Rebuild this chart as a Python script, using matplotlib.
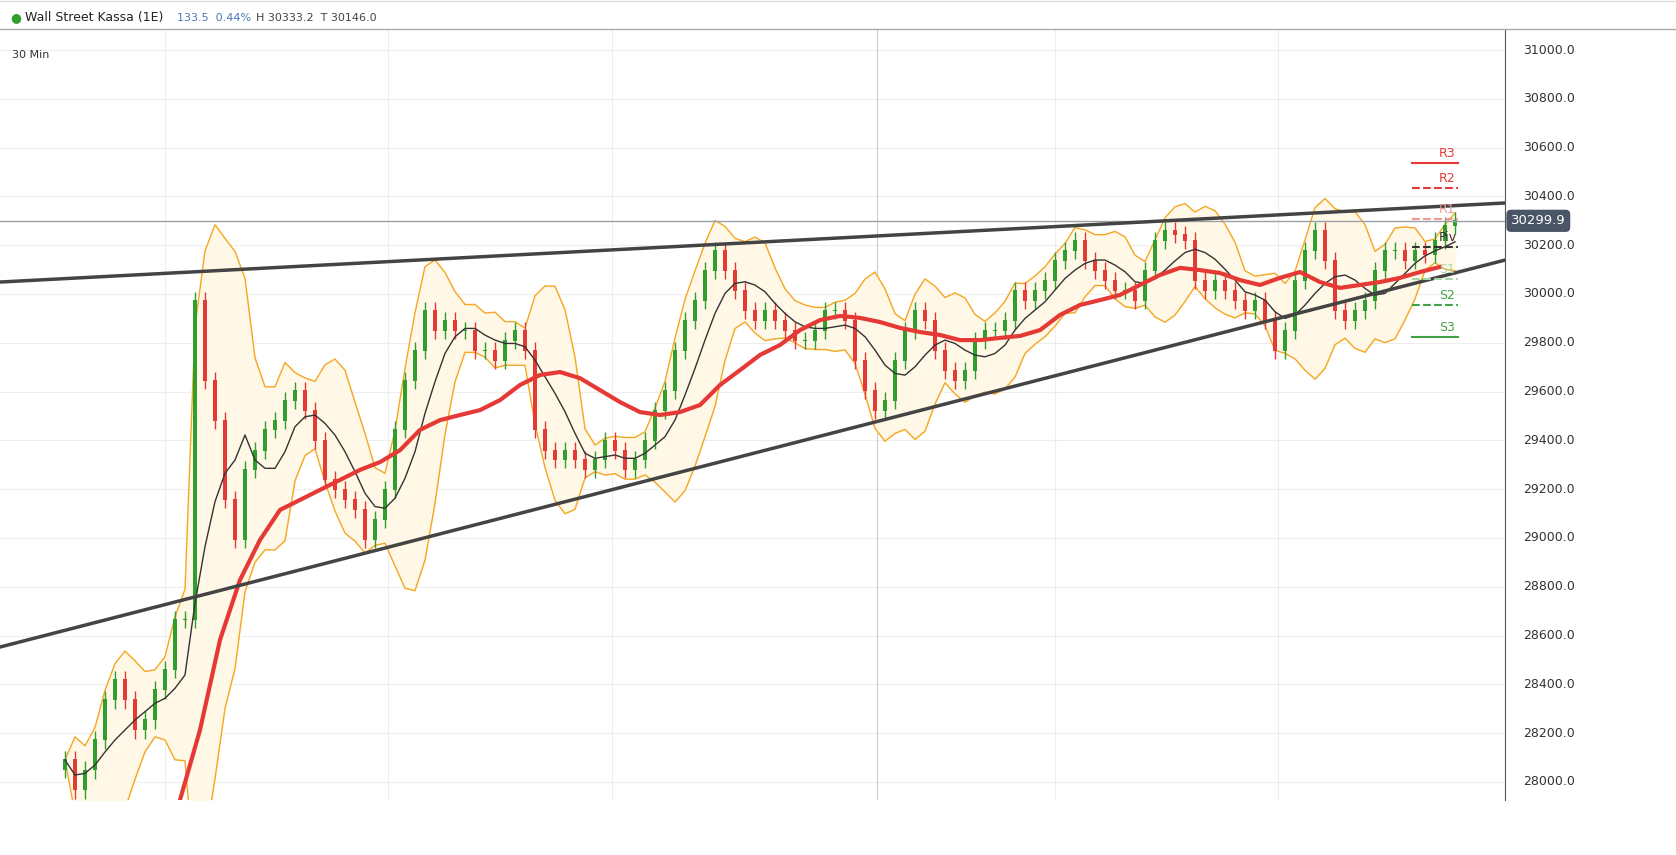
import numpy as np
import pandas as pd
import matplotlib
matplotlib.use("Agg")
import matplotlib.pyplot as plt

closes = [28090,27967,28049,28172,28336,28418,28336,28213,28254,28377,28459,28664,28664,29975,29647,29483,29156,28992,
          29279,29360,29443,29483,29565,29606,29524,29401,29238,29197,29156,29115,28992,29074,29197,29443,29647,29770,
          29934,29852,29893,29852,29852,29770,29770,29729,29811,29852,29770,29443,29360,29320,29360,29320,29279,29320,
          29401,29360,29279,29320,29401,29524,29606,29770,29893,29975,30098,30180,30098,30016,29934,29893,29934,29893,
          29852,29811,29811,29852,29934,29934,29893,29729,29606,29524,29565,29729,29852,29934,29893,29770,29688,29647,
          29688,29811,29852,29852,29893,30016,29975,30016,30057,30139,30180,30221,30139,30098,30057,30016,30016,29975,
          30098,30221,30262,30242,30221,30057,30016,30057,30016,29975,29934,29975,29893,29770,29852,30057,30180,30262,
          30139,29934,29893,29934,29975,30098,30180,30180,30139,30180,30160,30221,30282,30300]
ma_long = [27926,28213,28582,28828,28992,29115,29156,29197,29238,29279,29311,29360,29443,29483,29504,29524,29565,
           29627,29668,29680,29655,29606,29557,29516,29504,29516,29545,29627,29688,29750,29791,29852,29893,29910,
           29902,29885,29861,29844,29832,29811,29811,29820,29828,29852,29914,29955,29975,29996,30037,30078,30107,
           30098,30086,30057,30037,30066,30090,30049,30025,30037,30049,30066,30090,30111]
pivot_names = ["R3","R2","R1","Piv","S1","S2","S3"]
pivot_vals = [30537,30434,30307,30193,30061,29955,29824]
pivot_colors = ["#e53935","#e53935","#ef9a9a","#333333","#a5d6a7","#43a047","#43a047"]
pivot_styles = ["-","--","--","--","--","--","-"]
upper_trend = [30049,30373]
lower_trend = [28553,30139]
last_price = 30299.9
yticks = [28000,28200,28400,28600,28800,29000,29200,29400,29600,29800,30000,30200,30400,30600,30800,31000]
vgrid = [10,32.3,54.7,81.2,99,121.3]

c = np.array(closes, float)
o = np.r_[c[0]-40, c[:-1]]
x = np.arange(len(c))
hi = np.maximum(o,c)+35
lo = np.minimum(o,c)-35
s = pd.Series(c)
mid = s.rolling(6, min_periods=1).mean()
sd = s.rolling(6, min_periods=2).std().fillna(0)
up, dn = mid+1.8*sd, mid-1.8*sd

fig = plt.figure(figsize=(16.76,8.55), dpi=100)
ax = fig.add_axes([0, 55/855, 1505/1676, 770/855])
x0, x1 = -6.5, 144
ax.set_xlim(x0, x1)
ax.set_ylim(27926, 31082)
for v in yticks:
    ax.axhline(v, color="#eeeeee", lw=0.8, zorder=0)
for v in vgrid:
    ax.axvline(v, color="#cccccc" if v==81.2 else "#eeeeee", lw=0.8, zorder=0)
ax.fill_between(x, dn, up, color="#fff8e6", zorder=1)
ax.plot(x, up, color="#f5a623", lw=1, zorder=2)
ax.plot(x, dn, color="#f5a623", lw=1, zorder=2)
ax.plot(x, mid, color="#333333", lw=1, zorder=4)
col = np.where(c>=o, "#2e9e2e", "#e53935")
ax.vlines(x, lo, hi, colors=col, lw=1, zorder=3)
ax.bar(x, np.abs(c-o)+4, bottom=np.minimum(o,c)-2, width=0.45, color=col, zorder=3)
mx = 11.5 + 2*np.arange(len(ma_long))
ax.plot(mx, ma_long, color="#e53935", lw=3, zorder=5)
ax.plot([x0,x1], upper_trend, color="#444444", lw=2.5, zorder=6)
ax.plot([x0,x1], lower_trend, color="#444444", lw=2.5, zorder=6)
ax.axhline(last_price, color="#9aa0a6", lw=1, zorder=5)
for n,v,cl,ls in zip(pivot_names,pivot_vals,pivot_colors,pivot_styles):
    ax.plot([134.7,139.3],[v,v], color=cl, ls=ls, lw=1.5, zorder=7)
    ax.text(137.4, v+12, n, color=cl, fontsize=9, ha="left", va="bottom", zorder=7)
ax.set_xticks([]); ax.set_yticks([])
for sp in ["top","left","bottom"]:
    ax.spines[sp].set_visible(False)
ax.spines["right"].set_color("#555555")
for v in yticks:
    ax.text(x1+1.8, v, f"{v:.1f}", fontsize=9, color="#333333", va="center", ha="left", clip_on=False)
ax.text(x1+0.6, last_price, f"{last_price:.1f}", fontsize=9.5, color="white", va="center", ha="left",
        clip_on=False, bbox=dict(boxstyle="round,pad=0.35", fc="#4a5568", ec="none"), zorder=8)
ax.text(-5.3, 30980, "30 Min", fontsize=8, color="#333333", va="center")
fig.add_artist(plt.Line2D([0,1],[1-29/855,1-29/855], color="#aaaaaa", lw=1))
fig.add_artist(plt.Line2D([0,1],[1-1/855,1-1/855], color="#dddddd", lw=1))
fig.text(10/1676, 1-18/855, "●", color="#2e9e2e", fontsize=9, va="center")
fig.text(25/1676, 1-18/855, "Wall Street Kassa (1E)", color="#222222", fontsize=9, va="center")
fig.text(177/1676, 1-18/855, "133.5  0.44%", color="#4a7ab8", fontsize=8, va="center")
fig.text(256/1676, 1-18/855, "H 30333.2  T 30146.0", color="#444444", fontsize=8, va="center")
fig.savefig("out.png", dpi=100, facecolor="white")
